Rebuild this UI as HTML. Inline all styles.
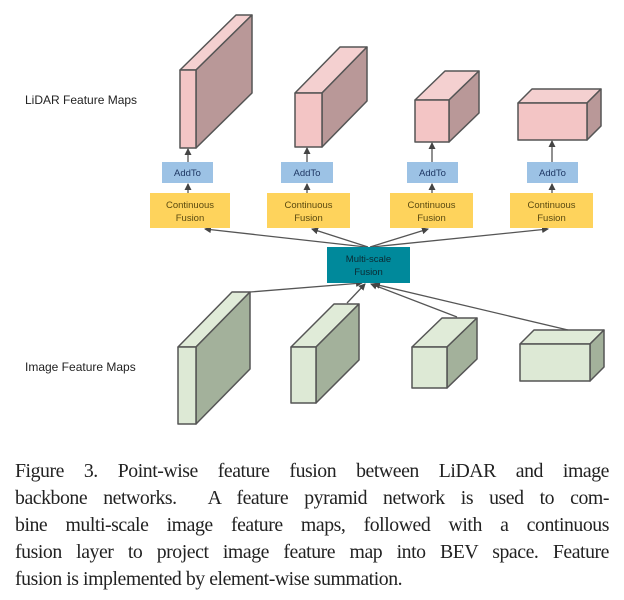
<!DOCTYPE html>
<html><head><meta charset="utf-8"><style>
body{margin:0;background:#fff;width:624px;height:600px;overflow:hidden;position:relative}
svg{position:absolute;left:0;top:0}
.cap{position:absolute;left:15px;top:458px;width:594px;font-family:"Liberation Serif",serif;font-size:19.8px;letter-spacing:-0.45px;line-height:27px;color:#222}
.cap div{text-align:justify;text-align-last:justify;white-space:nowrap}
.cap div.last{text-align-last:left}
</style></head><body>
<svg width="624" height="460" viewBox="0 0 624 460" font-family="Liberation Sans, sans-serif">
<defs><marker id="a" markerWidth="7" markerHeight="7" refX="6" refY="3.5" orient="auto" markerUnits="userSpaceOnUse"><path d="M0,0 L7,3.5 L0,7 z" fill="#444"/></marker></defs>
<g stroke="#555" stroke-width="1.5" stroke-linejoin="round">
<polygon points="180,70 236,15 252,15 196,70" fill="#f4d0d0"/><polygon points="196,70 252,15 252,93 196,148" fill="#b99898"/><rect x="180" y="70" width="16" height="78" fill="#f3c5c5"/>
<polygon points="295,93 340,47 367,47 322,93" fill="#f4d0d0"/><polygon points="322,93 367,47 367,101 322,147" fill="#b99898"/><rect x="295" y="93" width="27" height="54" fill="#f3c5c5"/>
<polygon points="415,100 445,71 479,71 449,100" fill="#f4d0d0"/><polygon points="449,100 479,71 479,113 449,142" fill="#b99898"/><rect x="415" y="100" width="34" height="42" fill="#f3c5c5"/>
<polygon points="518,103 532,89 601,89 587,103" fill="#f4d0d0"/><polygon points="587,103 601,89 601,126 587,140" fill="#b99898"/><rect x="518" y="103" width="69" height="37" fill="#f3c5c5"/>
<polygon points="178,347 232,292 250,292 196,347" fill="#e0ebd8"/><polygon points="196,347 250,292 250,369 196,424" fill="#a3b19b"/><rect x="178" y="347" width="18" height="77" fill="#dde9d5"/>
<polygon points="291,347 334,304 359,304 316,347" fill="#e0ebd8"/><polygon points="316,347 359,304 359,360 316,403" fill="#a3b19b"/><rect x="291" y="347" width="25" height="56" fill="#dde9d5"/>
<polygon points="412,347 442,318 477,318 447,347" fill="#e0ebd8"/><polygon points="447,347 477,318 477,359 447,388" fill="#a3b19b"/><rect x="412" y="347" width="35" height="41" fill="#dde9d5"/>
<polygon points="520,344 534,330 604,330 590,344" fill="#e0ebd8"/><polygon points="590,344 604,330 604,367 590,381" fill="#a3b19b"/><rect x="520" y="344" width="70" height="37" fill="#dde9d5"/>
</g>
<g stroke="#555" stroke-width="1.3" fill="none" marker-end="url(#a)">
<line x1="188" y1="193" x2="188" y2="184"/><line x1="188" y1="162" x2="188" y2="149"/>
<line x1="307" y1="193" x2="307" y2="184"/><line x1="307" y1="162" x2="307" y2="148"/>
<line x1="432" y1="193" x2="432" y2="184"/><line x1="432" y1="162" x2="432" y2="143"/>
<line x1="552" y1="193" x2="552" y2="184"/><line x1="552" y1="162" x2="552" y2="141"/>
<line x1="366" y1="247" x2="205" y2="229"/><line x1="368" y1="247" x2="312" y2="229"/>
<line x1="370" y1="247" x2="428" y2="229"/><line x1="372" y1="247" x2="548" y2="229"/>
<line x1="250" y1="292" x2="362" y2="283"/><line x1="347" y1="303" x2="365" y2="284"/>
<line x1="457" y1="317" x2="371" y2="284"/><line x1="568" y1="330" x2="374" y2="284"/>
</g>
<g font-size="9.5" text-anchor="middle">
<rect x="162" y="162" width="51" height="21" fill="#9cc2e5"/><text x="187.5" y="176" fill="#1f3864">AddTo</text>
<rect x="281" y="162" width="52" height="21" fill="#9cc2e5"/><text x="307" y="176" fill="#1f3864">AddTo</text>
<rect x="407" y="162" width="51" height="21" fill="#9cc2e5"/><text x="432.5" y="176" fill="#1f3864">AddTo</text>
<rect x="527" y="162" width="51" height="21" fill="#9cc2e5"/><text x="552.5" y="176" fill="#1f3864">AddTo</text>
<rect x="150" y="193" width="80" height="35" fill="#fed35c"/><text x="190" y="208" fill="#5a4a10">Continuous</text><text x="190" y="221" fill="#5a4a10">Fusion</text>
<rect x="267" y="193" width="83" height="35" fill="#fed35c"/><text x="308.5" y="208" fill="#5a4a10">Continuous</text><text x="308.5" y="221" fill="#5a4a10">Fusion</text>
<rect x="390" y="193" width="83" height="35" fill="#fed35c"/><text x="431.5" y="208" fill="#5a4a10">Continuous</text><text x="431.5" y="221" fill="#5a4a10">Fusion</text>
<rect x="510" y="193" width="83" height="35" fill="#fed35c"/><text x="551.5" y="208" fill="#5a4a10">Continuous</text><text x="551.5" y="221" fill="#5a4a10">Fusion</text>
<rect x="327" y="247" width="83" height="36" fill="#00899b"/><text x="368.5" y="262" fill="#0b2a33">Multi-scale</text><text x="368.5" y="275" fill="#0b2a33">Fusion</text>
</g>
<text x="25" y="104" font-size="12" fill="#222">LiDAR Feature Maps</text>
<text x="25" y="371" font-size="12" fill="#222">Image Feature Maps</text>
</svg>
<div class="cap">
<div>Figure 3. Point-wise feature fusion between LiDAR and image</div>
<div>backbone networks.&nbsp; A feature pyramid network is used to com-</div>
<div>bine multi-scale image feature maps, followed with a continuous</div>
<div>fusion layer to project image feature map into BEV space. Feature</div>
<div class="last">fusion is implemented by element-wise summation.</div>
</div>
</body></html>
